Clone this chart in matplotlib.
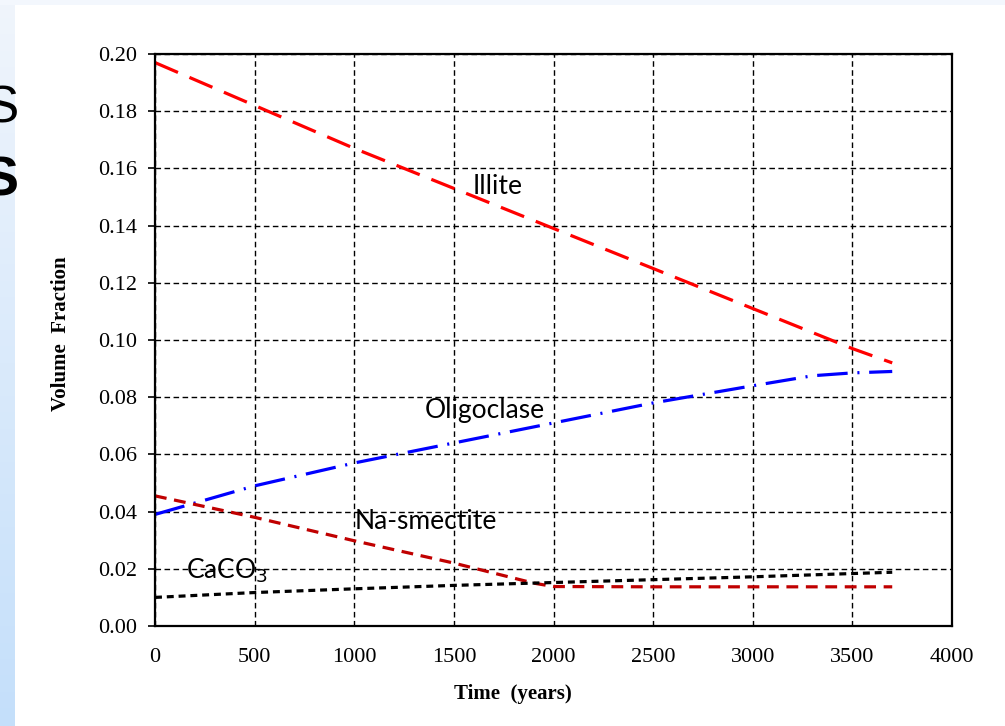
import numpy as np
import matplotlib
matplotlib.use("Agg")
import matplotlib.pyplot as plt
from matplotlib.colors import LinearSegmentedColormap

plt.rcParams['lines.scale_dashes'] = False

# ---- data ----
illite_t = [0, 500, 1000, 1500, 2000, 2500, 3000, 3500, 3700]
illite_v = [0.197, 0.182, 0.167, 0.153, 0.139, 0.125, 0.111, 0.097, 0.092]

olig_t = [0, 500, 1000, 1500, 2000, 2500, 3000, 3300, 3500, 3700]
olig_v = [0.039, 0.049, 0.057, 0.064, 0.071, 0.078, 0.084, 0.0875, 0.0885, 0.089]

nasm_t = [0, 500, 1000, 1500, 1900, 2000, 2500, 3000, 3700]
nasm_v = [0.0455, 0.038, 0.0298, 0.022, 0.015, 0.0138, 0.0137, 0.0137, 0.0137]

caco3_t = [0, 500, 1000, 1500, 2000, 2500, 3000, 3700]
caco3_v = [0.0100, 0.0117, 0.0130, 0.0142, 0.0152, 0.0162, 0.0172, 0.0188]

labels = ["Illite", "Oligoclase", "Na-smectite", "CaCO$_3$"]
label_pos = [(1596, 0.1538), (1355, 0.0755), (1004, 0.0364), (156, 0.0192)]

xticks = [0, 500, 1000, 1500, 2000, 2500, 3000, 3500, 4000]
yticks = [0.00, 0.02, 0.04, 0.06, 0.08, 0.10, 0.12, 0.14, 0.16, 0.18, 0.20]

W, H = 1005, 726
fig = plt.figure(figsize=(W / 100, H / 100), dpi=100)
fig.patch.set_facecolor('white')

# slide decoration: left gradient strip and top strip
bg = fig.add_axes([0, 0, 14 / W, 1])
cmap = LinearSegmentedColormap.from_list('b', ['#F0F5FC', '#C4DFFA'])
bg.imshow(np.linspace(0, 1, 256).reshape(-1, 1), aspect='auto', cmap=cmap,
          extent=[0, 1, 0, 1], origin='upper')
bg.axis('off')
top = fig.add_axes([0, 1 - 5 / H, 1, 5 / H])
top.set_facecolor('#F3F7FD')
top.set_xticks([]); top.set_yticks([])
for s in top.spines.values():
    s.set_visible(False)
fig.text(19 / W, 1 - 109 / H, 'S', fontsize=37, ha='right', va='center',
         family='Liberation Sans', color='black')
fig.text(18 / W, 1 - 181 / H, 'S', fontsize=40, ha='right', va='center',
         family='Liberation Sans', fontweight='bold', color='black')

ax = fig.add_axes([155 / W, 1 - 626 / H, 797 / W, 572 / H])
ax.set_xlim(0, 4000)
ax.set_ylim(0, 0.2)
ax.set_xticks(xticks)
ax.set_yticks(yticks)
ax.set_xticklabels([str(v) for v in xticks], family='Liberation Serif', fontsize=16)
ax.set_yticklabels([f"{v:.2f}" for v in yticks], family='Liberation Serif', fontsize=16)
ax.tick_params(axis='x', length=0, pad=16)
ax.tick_params(axis='y', direction='out', length=5, width=1.2, pad=8)
ax.grid(True, color='black', linestyle=(0, (4, 2.5)), linewidth=1.0)
ax.set_axisbelow(True)
for s in ax.spines.values():
    s.set_linewidth(1.6)
    s.set_color('black')

lw = 2.3
ax.plot(illite_t, illite_v, color='#FF0000', lw=lw, dashes=(18, 9))
ax.plot(olig_t, olig_v, color='#0000FF', lw=lw, dashes=(22, 7, 1.5, 7))
ax.plot(nasm_t, nasm_v, color='#C00000', lw=lw, dashes=(8.5, 5.5))
ax.plot(caco3_t, caco3_v, color='black', lw=lw, dashes=(5, 3.5))

for lab, (x, y) in zip(labels, label_pos):
    ax.text(x, y, lab, fontsize=19, family='Lato', ha='left', va='center')

ax.set_xlabel('Time  (years)', family='Liberation Serif', fontweight='bold',
              fontsize=15)
ax.set_ylabel('Volume  Fraction', family='Liberation Serif', fontweight='bold',
              fontsize=15)
ax.xaxis.set_label_coords((513 - 155) / 797, (626 - 684) / 572)
ax.yaxis.set_label_coords((71 - 155) / 797, (626 - 334) / 572)

fig.savefig('out.png', dpi=100)
